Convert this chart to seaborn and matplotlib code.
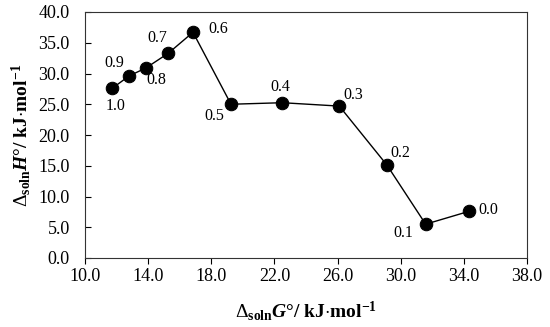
import pandas as pd
import matplotlib
matplotlib.use('Agg')
import matplotlib.pyplot as plt
import seaborn as sns

# mole fraction labels and thermodynamic values
fractions = ['1.0', '0.9', '0.8', '0.7', '0.6', '0.5', '0.4', '0.3', '0.2', '0.1', '0.0']
dG = [11.73, 12.79, 13.86, 15.28, 16.84, 19.25, 22.50, 26.11, 29.13, 31.58, 34.34]
dH = [27.6, 29.6, 30.9, 33.3, 36.7, 25.0, 25.25, 24.7, 15.1, 5.5, 7.6]
xticks = [10.0, 14.0, 18.0, 22.0, 26.0, 30.0, 34.0, 38.0]
yticks = [0.0, 5.0, 10.0, 15.0, 20.0, 25.0, 30.0, 35.0, 40.0]

df = pd.DataFrame({'frac': fractions, 'dG': dG, 'dH': dH})

sns.set_style('ticks')
plt.rcParams['font.family'] = ['Liberation Serif', 'DejaVu Serif']
plt.rcParams['text.color'] = 'black'
plt.rcParams['axes.labelcolor'] = 'black'
plt.rcParams['xtick.color'] = 'black'
plt.rcParams['ytick.color'] = 'black'
plt.rcParams['mathtext.fontset'] = 'custom'
plt.rcParams['mathtext.rm'] = 'Liberation Serif'
plt.rcParams['mathtext.it'] = 'Liberation Serif:italic'
plt.rcParams['mathtext.bf'] = 'Liberation Serif:bold'
plt.rcParams['mathtext.bfit'] = 'Liberation Serif:italic:bold'

fig = plt.figure(figsize=(5.5, 3.27), dpi=100)
ax = fig.add_axes([85 / 550, 1 - 258 / 327, 442 / 550, 246 / 327])

sns.lineplot(data=df, x='dG', y='dH', sort=False, color='black', linewidth=1.0,
             marker='o', markersize=9, markeredgecolor='black', ax=ax)

# label offsets in pixels (dx, dy)
offsets = {'1.0': (3, -18), '0.9': (-15, 13), '0.8': (10, -12), '0.7': (-11, 15),
           '0.6': (25, 3), '0.5': (-17, -12), '0.4': (-2, 16), '0.3': (14, 11),
           '0.2': (13, 12), '0.1': (-22, -9), '0.0': (19, 1)}
for _, r in df.iterrows():
    ax.annotate(r['frac'], (r['dG'], r['dH']), xytext=offsets[r['frac']],
                textcoords='offset pixels', ha='center', va='center', fontsize=11.5)

ax.set_xlim(10, 38)
ax.set_ylim(0, 40)
ax.set_xticks(xticks)
ax.set_yticks(yticks)
ax.set_xticklabels([f'{v:.1f}' for v in xticks], fontsize=13)
ax.set_yticklabels([f'{v:.1f}' for v in yticks], fontsize=13)
ax.tick_params(axis='x', direction='out', length=4, width=0.8, pad=3)
ax.tick_params(axis='y', direction='in', length=4, width=0.8, pad=11)
for s in ax.spines.values():
    s.set_linewidth(0.8)
    s.set_color('#333333')

ax.set_xlabel(r'$\Delta_{\mathbf{soln}}\mathbfit{G}\mathbf{°/\ kJ{\cdot}mol^{-1}}$', fontsize=14, labelpad=10)
ax.set_ylabel(r'$\Delta_{\mathbf{soln}}\mathbfit{H}\mathbf{°/\ kJ{\cdot}mol^{-1}}$', fontsize=14, labelpad=4)

fig.savefig('out.png', dpi=100)
